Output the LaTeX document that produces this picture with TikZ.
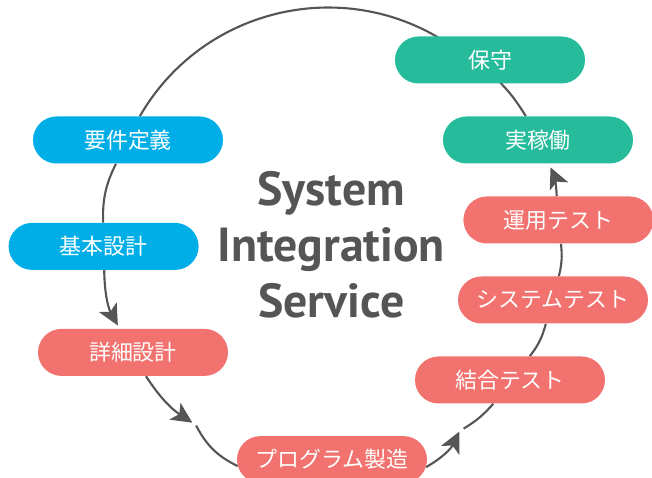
\documentclass[tikz,border=0pt]{standalone}
\usepackage{fontspec}
\newfontfamily\jpfont{Noto Sans CJK JP}
\newfontfamily\titlefont{PT Sans}
\usetikzlibrary{arrows.meta,shapes.misc,backgrounds}
\definecolor{reqblue}{HTML}{00AEE7}
\definecolor{devred}{HTML}{F1726E}
\definecolor{opgreen}{HTML}{26BC9B}
\definecolor{ringgray}{HTML}{555558}

\begin{document}
\begin{tikzpicture}[phase/.style={rounded rectangle,minimum width=4.75cm,
                    minimum height=1.175cm,inner sep=0pt,text=white,
                    font=\jpfont\fontsize{15.6}{18}\selectfont},
                    ringtip/.style={-{Stealth[length=5.2mm,width=5mm,inset=1.3mm]}}]
\useasboundingbox (0,0) rectangle (16.3,11.95);
\coordinate (ctr) at (8.3,5.9);
\node [font=\titlefont\bfseries\fontsize{34}{39.7}\selectfont,
       text=ringgray,align=center] (title) at (8.28,5.83)
      {System\\Integration\\Service};
\begin{scope}[every node/.style={phase,fill=reqblue}]
    \node (yoken) at (3.2,8.45) {要件定義};
    \node (kihon) at (2.59,5.79) {基本設計};
\end{scope}
\begin{scope}[every node/.style={phase,fill=devred}]
    \node (shosai) at (3.325,3.14) {詳細設計};
    \node (program) at (8.3,0.46) {プログラム製造};
    \node (ketsugo) at (12.75,2.45) {結合テスト};
    \node (systest) at (13.825,4.45) {システムテスト};
    \node (unyo) at (13.96,6.45) {運用テスト};
\end{scope}
\begin{scope}[every node/.style={phase,fill=opgreen}]
    \node (jitsu) at (13.45,8.45) {実稼働};
    \node (hoshu) at (12.25,10.45) {保守};
\end{scope}
% breaks in the ring
\path (ctr) ++(232.3:5.71) coordinate (gapA)
      (ctr) ++(233.5:5.71) coordinate (gapB)
      (ctr) ++(303.9:5.71) coordinate (gapC)
      (ctr) ++(305.2:5.71) coordinate (gapD)
      (ctr) ++(53.7:5.71) coordinate (hoshuIn);
\begin{scope}[on background layer,
              every edge/.style={draw=ringgray,line width=1.5pt}]
    \path [-] (yoken) edge[bend right=14] (kihon);
    \path (kihon) edge[ringtip,bend right=14,shorten >=2.5pt] (shosai);
    \path (shosai) edge[ringtip,bend right=11.6] (gapA);
    \path [-] (gapB) edge[bend right=18] (program);
    \path (program) edge[ringtip,bend right=17] (gapC);
    \path [-] (gapD) edge[bend right=8.5] (ketsugo);
    \path [-] (ketsugo) edge[bend right=11.5] (systest);
    \path [-] (systest) edge[bend right=10] (unyo);
    \path (unyo) edge[ringtip,bend right=10.4,shorten >=2.8pt] (jitsu);
    \path [-] (jitsu) edge[bend right=13.7] (hoshuIn);
    \path [-] (hoshuIn) edge[bend right=49.9,looseness=1.04] (yoken);
\end{scope}
\end{tikzpicture}
\end{document}
